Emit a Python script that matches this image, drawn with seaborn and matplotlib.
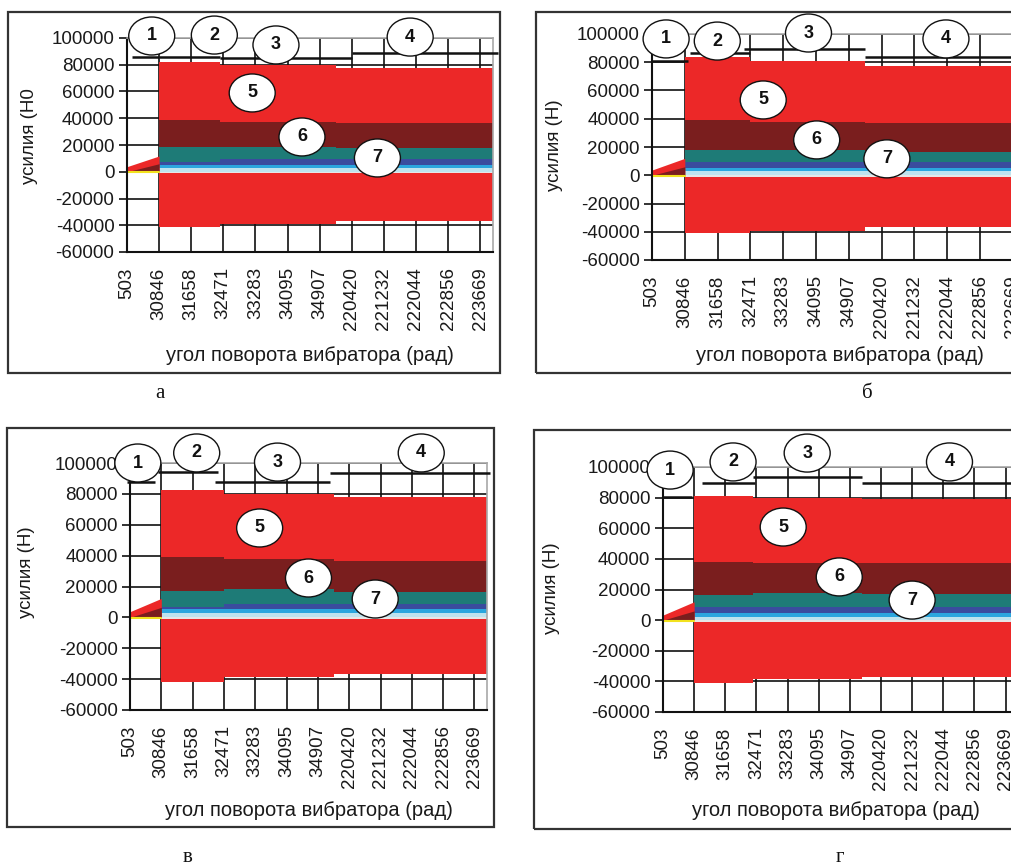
import numpy as np
import matplotlib
matplotlib.use('Agg')
import matplotlib.pyplot as plt
from matplotlib.patches import Ellipse, Rectangle
from matplotlib.transforms import ScaledTranslation
import seaborn as sns

# categories on the x axis (Excel style, evenly spaced)
x_labels = ['503', '30846', '31658', '32471', '33283', '34095', '34907',
            '220420', '221232', '222044', '222856', '223669']
captions = ['а', 'б', 'в', 'г']
y_titles = ['усилия (Н0', 'усилия (Н)', 'усилия (Н)', 'усилия (Н)']
x_title = 'угол поворота вибратора (рад)'

# stage boundaries (category index) and band levels per stage, one row per panel
seg_edges = [[1, 2.9, 6.5, 11.4], [1, 3.0, 6.5, 11.4], [1, 3.0, 6.5, 11.4], [1, 2.9, 6.4, 11.4]]
red_top = [[82300, 79800, 77300], [83500, 81100, 77600], [82500, 79900, 77800], [81000, 79500, 79100]]
red_bot = [[-41000, -39000, -36500], [-41100, -39200, -36800], [-41700, -38900, -36700], [-41300, -38700, -37300]]
dred_top = [[38700, 37200, 36200], [39100, 37900, 36800], [39300, 37600, 36700], [38200, 37100, 37100]]
teal_top = [[18700, 18500, 18000], [17900, 17900, 16700], [17300, 18200, 16600], [16400, 17500, 17000]]
blue_top = [[7000, 9800, 9500], [9600, 9600, 9600], [6500, 8700, 8700], [8400, 8400, 8400]]
cyan_top = [[4800, 4800, 4800], [4900, 4900, 4900], [5200, 5200, 5200], [4800, 4800, 4800]]
pale_top = [[2700, 2700, 2700], [3000, 3000, 3000], [2700, 2700, 2700], [2200, 2200, 2200]]
gap_bot = [-1200, -1000, -1200, -1100]

# start-up ramp between 503 and 30846
ramp_top = [[3800, 11800], [3700, 12000], [3700, 12300], [3300, 12000]]
ramp_mid = [[0, 6000], [0, 6000], [0, 6500], [0, 6000]]
yellow_y = [[-400, -400], [-400, -400], [-300, -300], [-300, -300]]

# black stage markers 1..4 (x from, x to, level)
mark_x0 = [[0.15, 1.0, 2.9, 7.0], [0.0, 1.15, 2.8, 6.5], [-0.1, 0.9, 2.7, 6.4], [0.0, 1.25, 2.9, 6.4]]
mark_x1 = [[1.0, 2.9, 7.0, 11.55], [1.1, 3.0, 6.5, 11.6], [0.8, 2.8, 6.4, 11.5], [0.93, 2.96, 6.4, 11.6]]
mark_y = [[85800, 85800, 85300, 88800], [81100, 86300, 89200, 83500],
          [87900, 94000, 87500, 93700], [80600, 89300, 93700, 89300]]

# numbered bubbles 1..7
bubble_x = [[0.77, 2.72, 4.64, 8.82, 3.9, 5.45, 7.8],
            [0.43, 1.99, 4.77, 8.96, 3.39, 5.02, 7.16],
            [0.25, 2.13, 4.71, 9.3, 4.14, 5.7, 7.83],
            [0.23, 2.25, 4.63, 9.2, 3.86, 5.66, 8.0]]
bubble_y = [[101500, 102200, 94800, 100700, 58900, 26000, 10300],
            [96500, 95000, 100700, 96500, 53300, 25000, 11600],
            [100000, 106500, 100600, 106500, 57900, 25500, 11900],
            [98000, 103300, 109100, 103300, 60800, 28200, 13100]]

# layout in pixels of the reference
W, H = 1012, 866
ax_px = [(127, 38, 493, 252), (652, 34, 1026, 260), (130, 463, 487, 710), (663, 467, 1018, 712)]
frame_px = [(8, 12, 500, 373), (536, 12, 1040, 373), (7, 428, 494, 827), (534, 430, 1040, 829)]
ylab_px = [(38, 136), (563, 145), (35, 572), (560, 588)]
xlab_px = [(310, 346), (840, 346), (309, 801), (836, 801)]
cap_px = [(160, 393), (867, 393), (188, 858), (840, 858)]

C_RED = '#EC2828'
C_DRED = '#7A1E1E'
C_TEAL = '#1E7B77'
C_BLUE = '#3A4C9E'
C_CYAN = '#2BA6DE'
C_PALE = '#BEE3EE'
C_GAP = '#E6E6E6'
C_TXT = '#1A1A1A'

sns.set_theme(style='white')
plt.rcParams['font.family'] = ['Liberation Sans', 'DejaVu Sans']


def fx(x):
    return x / W


def fy(y):
    return 1 - y / H


def step(v):
    return np.r_[v, v[-1]]


fig = plt.figure(figsize=(W / 100, H / 100), dpi=100)

for i in range(4):
    l, t, r, b = ax_px[i]
    ax = fig.add_axes([fx(l), fy(b), (r - l) / W, (b - t) / H])
    ax.set_axisbelow(True)
    e = seg_edges[i]

    bands = [
        (red_bot[i], red_top[i], C_RED),
        ([gap_bot[i]] * 3, [0, 0, 0], C_GAP),
        ([0, 0, 0], pale_top[i], C_PALE),
        (pale_top[i], cyan_top[i], C_CYAN),
        (cyan_top[i], blue_top[i], C_BLUE),
        (blue_top[i], teal_top[i], C_TEAL),
        (teal_top[i], dred_top[i], C_DRED),
    ]
    for lo, hi, c in bands:
        ax.fill_between(e, step(lo), step(hi), step='post', color=c, lw=0)

    # start-up section
    ax.fill_between([0, 1], [0, 0], ramp_top[i], color=C_RED, lw=0)
    ax.fill_between([0, 1], [0, 0], ramp_mid[i], color=C_DRED, lw=0)
    sns.lineplot(x=[0, 1], y=yellow_y[i], ax=ax, color='#F2E21E', lw=1.5)

    ax.hlines(mark_y[i], mark_x0[i], mark_x1[i], colors='#111111', lw=1.8,
              clip_on=False, zorder=5)

    for k in range(7):
        tr = fig.dpi_scale_trans + ScaledTranslation(bubble_x[i][k], bubble_y[i][k], ax.transData)
        el = Ellipse((0, 0), 0.46, 0.38, transform=tr, fc='white', ec='#111111',
                     lw=1.0, zorder=6, clip_on=False)
        ax.add_artist(el)
        ax.text(bubble_x[i][k], bubble_y[i][k], str(k + 1), ha='center', va='center',
                fontsize=13, fontweight='bold', color='#111111', zorder=7, clip_on=False)

    ax.set_xlim(0, 11.4)
    ax.set_ylim(-60000, 100000)
    ax.set_xticks(range(len(x_labels)))
    ax.set_xticklabels(x_labels, rotation=90, fontsize=13.5, color=C_TXT)
    ax.set_yticks(range(-60000, 100001, 20000))
    ax.set_yticklabels([str(v) for v in range(-60000, 100001, 20000)], fontsize=13.5, color=C_TXT)
    ax.grid(True, color='#111111', lw=1.2)
    ax.tick_params(axis='x', length=0, pad=11)
    ax.tick_params(axis='y', length=6, width=1.2, color='#111111', pad=3, left=True)
    for s in ['left', 'bottom']:
        ax.spines[s].set_color('#111111')
        ax.spines[s].set_linewidth(1.5)
    for s in ['top', 'right']:
        ax.spines[s].set_color('#A8A8A8')
        ax.spines[s].set_linewidth(1.2)

    fig.text(fx(ylab_px[i][0]), fy(ylab_px[i][1]), y_titles[i], rotation=90,
             ha='right', va='center', fontsize=13.5, color=C_TXT)
    fig.text(fx(xlab_px[i][0]), fy(xlab_px[i][1]), x_title, ha='center', va='top',
             fontsize=14.5, color=C_TXT)
    fig.text(fx(cap_px[i][0]), fy(cap_px[i][1]), captions[i], ha='center', va='center',
             fontsize=15, family=['Liberation Serif', 'DejaVu Serif'], color='#111111')

    fl, ft, fr, fb = frame_px[i]
    fig.add_artist(Rectangle((fx(fl), fy(fb)), (fr - fl) / W, (fb - ft) / H,
                             transform=fig.transFigure, fill=False, ec='#333333', lw=1.6))

fig.savefig('out.png', dpi=100)
